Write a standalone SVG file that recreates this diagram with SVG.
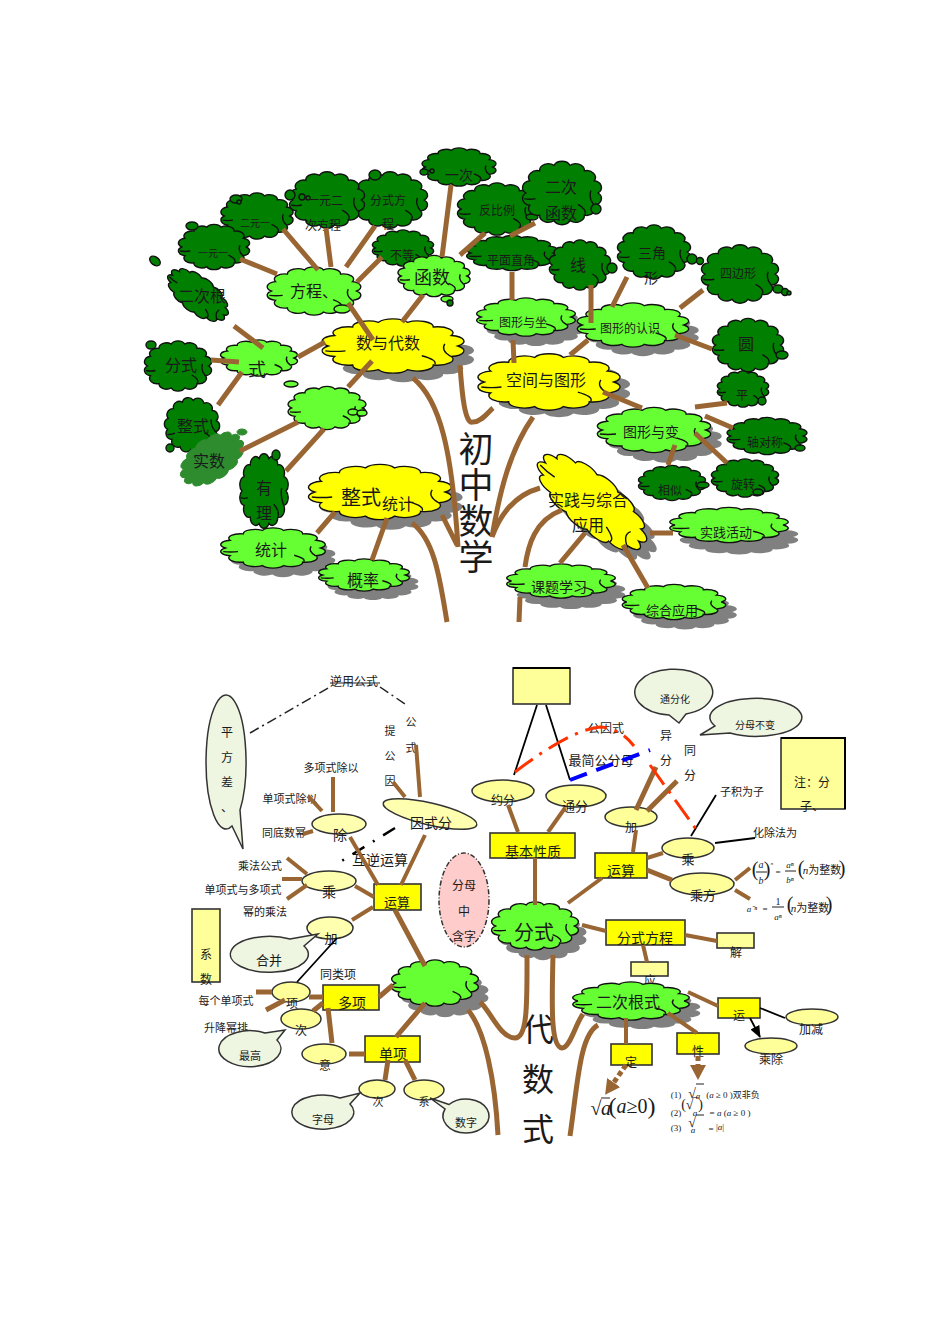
<svg xmlns="http://www.w3.org/2000/svg" width="950" height="1344" viewBox="0 0 950 1344">
<style>
text{font-family:"Liberation Serif","Noto Sans CJK SC",serif;text-anchor:middle;dominant-baseline:central;fill:#1a1a1a}
.s9{font-size:9px}.s10{font-size:10px}.s11{font-size:11px}.s12{font-size:12px}.s13{font-size:13px}.s14{font-size:14px}.s16{font-size:16px}.s18{font-size:18px}.s20{font-size:20px}.s32{font-size:32px}.s35{font-size:35px}
.i{font-style:italic}
.d{fill:#007f00;stroke:#111;stroke-width:1.4}
.l{fill:#66ff33;stroke:#111;stroke-width:1.4}
.y{fill:#ffff00;stroke:#111;stroke-width:1.4}
.m{fill:#2e8b2e;stroke:#2e8b2e;stroke-width:1}
.sh{fill:#808080;stroke:none}
.e{fill:#ffffb0;stroke:#333;stroke-width:1.5}
.b{fill:#eef5e1;stroke:#333;stroke-width:1.5}
.by{fill:#ffff00;stroke:#333;stroke-width:1.6}
.bp{fill:#ffff99;stroke:#333;stroke-width:1.6}
.br{fill:none;stroke:#996633;stroke-width:5}
.br3{fill:none;stroke:#996633;stroke-width:4}
.ar{fill:none;stroke:#000;stroke-width:1.8;marker-end:url(#a)}
</style>
<defs>
<marker id="a" markerUnits="userSpaceOnUse" markerWidth="14" markerHeight="12" refX="11" refY="5" orient="auto"><path d="M0,0L12,5L0,10z" fill="#000"/></marker>
<marker id="ab" markerUnits="userSpaceOnUse" markerWidth="16" markerHeight="16" refX="3" refY="8" orient="auto"><path d="M0,0L15,8L0,16z" fill="#996633"/></marker>
<g id="c">
<path vector-effect="non-scaling-stroke" d="M45,0A11,11 0 0 1 40.5,19.5A11,11 0 0 1 28,35.2A11,11 0 0 1 10,43.9A11,11 0 0 1 -10,43.9A11,11 0 0 1 -28,35.2A11,11 0 0 1 -40.5,19.5A11,11 0 0 1 -45,0A11,11 0 0 1 -40.5,-19.5A11,11 0 0 1 -28,-35.2A11,11 0 0 1 -10,-43.9A11,11 0 0 1 10,-43.9A11,11 0 0 1 28,-35.2A11,11 0 0 1 40.5,-19.5A11,11 0 0 1 45,0Z"/>
<path vector-effect="non-scaling-stroke" fill="none" d="M20,18Q31,26 29,34M-47,9Q-40,11 -33,9M36,-4Q33,8 40,19"/>
</g>
</defs>

<g id="tree-top">
<g id="yici"><use href="#c" class="d" transform="translate(459 167) scale(.75 .38)"/><ellipse class="d" cx="424" cy="172" rx="4" ry="3"/><circle class="d" cx="432" cy="171" r="2"/><text class="s14" x="459" y="175">一次</text></g>
<g id="fenshi-fangcheng"><use href="#c" class="d" transform="translate(390 200) scale(.76 .56)"/><ellipse class="d" cx="375" cy="175" rx="6" ry="5"/><text class="s12" x="388" y="201">分式方</text><text class="s12" x="388" y="225">程</text></g>
<g id="yiyuan-er"><use href="#c" class="d" transform="translate(327 200) scale(.76 .56)"/><circle class="d" cx="290" cy="195" r="5"/><circle class="d" cx="302" cy="197" r="3"/><circle class="d" cx="308" cy="198" r="2"/><text class="s12" x="325" y="201">一元二</text><text class="s12" x="323" y="226">次方程</text></g>
<g id="eryuan-yi"><use href="#c" class="d" transform="translate(257 216) scale(.73 .46)"/><ellipse class="d" cx="236" cy="199" rx="6" ry="4"/><circle class="d" cx="239" cy="202" r="2"/><text class="s10" x="255" y="223">二元一</text></g>
<g id="yiyuan-yi"><use href="#c" class="d" transform="translate(214 247) scale(.72 .45)"/><ellipse class="d" cx="192" cy="226" rx="6" ry="4"/><text class="s10" x="213" y="253">一元一</text></g>
<g id="ercigen"><use href="#c" class="d" transform="translate(198 295) rotate(38) scale(.72 .36)"/><ellipse class="d" cx="155" cy="261" rx="6" ry="4" transform="rotate(38 155 261)"/><text class="s16" x="202" y="296">二次根</text></g>
<g id="fenshi-d"><use href="#c" class="d" transform="translate(178 366) scale(.68 .5)"/><ellipse class="d" cx="151" cy="345" rx="5" ry="4"/><text class="s16" x="181" y="365">分式</text></g>
<g id="budeng"><use href="#c" class="d" transform="translate(403 248) scale(.62 .36)"/><ellipse class="d" cx="419" cy="262" rx="5" ry="3"/><text class="s12" x="402" y="256">不等</text></g>
<g id="fanbili"><use href="#c" class="d" transform="translate(497 209) scale(.8 .52)"/><ellipse class="d" cx="532" cy="217" rx="6" ry="3"/><text class="s12" x="497" y="211">反比例</text></g>
<g id="erci-hanshu"><use href="#c" class="d" transform="translate(562 193) scale(.8 .63)"/><circle class="d" cx="596" cy="209" r="5"/><text class="s16" x="561" y="187">二次</text><text class="s16" x="561" y="213">函数</text></g>
<g id="pingmian"><use href="#c" class="d" transform="translate(512 253) scale(.92 .35)"/><text class="s12" x="511" y="261">平面直角</text></g>
<g id="xian"><use href="#c" class="d" transform="translate(580 265) scale(.62 .5)"/><circle class="d" cx="612" cy="268" r="5"/><text class="s16" x="578" y="265">线</text></g>
<g id="sanjiao"><use href="#c" class="d" transform="translate(654 252) scale(.74 .54)"/><circle class="d" cx="692" cy="259" r="5"/><circle class="d" cx="700" cy="261" r="3.5"/><text class="s14" x="652" y="253">三角</text><text class="s14" x="651" y="278">形</text></g>
<g id="sibianxing"><use href="#c" class="d" transform="translate(740 274) scale(.78 .58)"/><ellipse class="d" cx="778" cy="289" rx="5" ry="4"/><circle class="d" cx="785" cy="292" r="3.5"/><circle class="d" cx="789" cy="293" r="2"/><text class="s12" x="738" y="274">四边形</text></g>
<g id="yuan"><use href="#c" class="d" transform="translate(748 345) scale(.72 .53)"/><ellipse class="d" cx="782" cy="355" rx="6" ry="4"/><text class="s16" x="746" y="344">圆</text></g>
<g id="ping"><use href="#c" class="d" transform="translate(743 389) scale(.52 .36)"/><circle class="d" cx="762" cy="401" r="4"/><text class="s12" x="742" y="396">平</text></g>
<g id="zhouduichen"><use href="#c" class="d" transform="translate(767 436) scale(.81 .37)"/><ellipse class="d" cx="800" cy="448" rx="5" ry="3"/><text class="s12" x="765" y="443">轴对称</text></g>
<g id="xuanzhuan"><use href="#c" class="d" transform="translate(745 478) scale(.68 .38)"/><ellipse class="d" cx="758" cy="492" rx="5" ry="3"/><text class="s12" x="743" y="485">旋转</text></g>
<g id="xiangsi"><use href="#c" class="d" transform="translate(672 483) scale(.68 .35)"/><ellipse class="d" cx="703" cy="485" rx="6" ry="3"/><text class="s12" x="670" y="491">相似</text></g>
<g id="zhengshi-d"><use href="#c" class="d" transform="translate(192 425) rotate(-10) scale(.55 .55)"/><circle class="d" cx="170" cy="448" r="4"/><text class="s16" x="193" y="426">整式</text></g>
<g id="youli"><use href="#c" class="d" transform="translate(264 491) scale(.49 .74)"/><ellipse class="d" cx="276" cy="455" rx="4" ry="5"/><text class="s16" x="264" y="488">有</text><text class="s16" x="264" y="513">理</text></g>
<g id="shishu"><use href="#c" class="m" transform="translate(212 459) rotate(-35) scale(.72 .42)"/><ellipse class="m" cx="242" cy="432" rx="5" ry="3"/><text class="s16" x="209" y="461">实数</text></g>
<g id="fangcheng"><use href="#c" class="l" transform="translate(314 291) scale(.95 .48)"/><ellipse class="l" cx="342" cy="309" rx="8" ry="4"/><text class="s16" x="314" y="291">方程、</text></g>
<g id="hanshu"><use href="#c" class="l" transform="translate(434 276) scale(.73 .41)"/><ellipse class="l" cx="447" cy="299" rx="6" ry="3"/><circle class="d" cx="450" cy="303" r="3"/><text class="s18" x="432" y="278">函数</text></g>
<g id="shi"><use href="#c" class="l" transform="translate(259 358) scale(.78 .36)"/><ellipse class="l" cx="291" cy="384" rx="7" ry="3"/><text class="s18" x="257" y="370">式</text></g>
<g id="unnamed-top"><use href="#c" class="l" transform="translate(327 408) scale(.79 .43)"/><ellipse class="l" cx="353" cy="412" rx="5" ry="3"/><ellipse class="l" cx="362" cy="413" rx="5" ry="3"/></g>
<g id="tongji"><use href="#c" class="sh" transform="translate(283 557) scale(1.06 .4)"/><use href="#c" class="l" transform="translate(273 548) scale(1.06 .4)"/><text class="s16" x="271" y="550">统计</text></g>
<g id="gailv"><use href="#c" class="sh" transform="translate(373 584) scale(.92 .32)"/><use href="#c" class="l" transform="translate(364 575) scale(.92 .32)"/><text class="s16" x="363" y="580">概率</text></g>
<g id="tuxing-zuobiao"><use href="#c" class="sh" transform="translate(536 327) scale(1 .38)"/><use href="#c" class="l" transform="translate(526 317) scale(1 .38)"/><text class="s12" x="523" y="323">图形与坐</text></g>
<g id="tuxing-renshi"><use href="#c" class="sh" transform="translate(643 334) scale(1.13 .44)"/><use href="#c" class="l" transform="translate(633 325) scale(1.13 .44)"/><text class="s12" x="630" y="329">图形的认识</text></g>
<g id="tuxing-bian"><use href="#c" class="sh" transform="translate(665 440) scale(1.15 .45)"/><use href="#c" class="l" transform="translate(654 430) scale(1.15 .45)"/><text class="s14" x="651" y="432">图形与变</text></g>
<g id="shijian-huodong"><use href="#c" class="sh" transform="translate(739 537) scale(1.2 .35)"/><use href="#c" class="l" transform="translate(729 525) scale(1.2 .35)"/><text class="s13" x="726" y="532">实践活动</text></g>
<g id="keti"><use href="#c" class="sh" transform="translate(571 592) scale(1.1 .34)"/><use href="#c" class="l" transform="translate(561 581) scale(1.1 .34)"/><text class="s14" x="559" y="587">课题学习</text></g>
<g id="zonghe"><use href="#c" class="sh" transform="translate(685 612) scale(1.05 .35)"/><use href="#c" class="l" transform="translate(674 602) scale(1.05 .35)"/><text class="s13" x="672" y="610">综合应用</text></g>
<g id="shuyu-daishu"><use href="#c" class="sh" transform="translate(403 355) scale(1.44 .54)"/><use href="#c" class="y" transform="translate(393 346) scale(1.44 .54)"/><text class="s16" x="388" y="343">数与代数</text></g>
<g id="kongjian"><use href="#c" class="sh" transform="translate(559 389) scale(1.44 .56)"/><use href="#c" class="y" transform="translate(549 382) scale(1.44 .56)"/><text class="s16" x="546" y="380">空间与图形</text></g>
<g id="zhengshi-tongji"><use href="#c" class="sh" transform="translate(391 502) scale(1.45 .55)"/><use href="#c" class="y" transform="translate(380 492) scale(1.45 .55)"/><text class="s20" x="361" y="498">整式</text><text class="s16" x="398" y="504">统计</text></g>
<g id="shijian"><use href="#c" class="sh" transform="translate(602 512) rotate(40) scale(1.35 .55)"/><use href="#c" class="y" transform="translate(592 502) rotate(40) scale(1.35 .55)"/><text class="s16" x="588" y="500">实践与综合</text><text class="s16" x="588" y="525">应用</text></g>
<g id="root-top"><text class="s35" x="476" y="450">初</text><text class="s35" x="476" y="486">中</text><text class="s35" x="476" y="522">数</text><text class="s35" x="476" y="558">学</text></g>
</g>

<g id="connectors-top">
<path class="br" d="M240,259L277,274M283,229L318,270M326,228L331,267M375,226L346,267M382,257L357,282M348,303L373,340M423,295L402,322M451,185L442,257M485,233L460,255M535,223L510,236M234,326L263,348M211,360L239,362M298,357L325,342M242,372L218,405M372,361L348,387M298,422L240,451M324,429L286,471M335,512L317,533M387,518L372,560"/>
<path class="br" d="M413,378C440,400 452,450 458,547M442,515L457,545M412,523C435,540 440,580 447,622M460,365C462,395 465,425 473,422C482,422 488,412 493,408M533,417C510,450 500,490 492,537M540,488C515,495 500,515 492,537M562,510C535,520 528,545 525,567M520,597L519,622"/>
<path class="br" d="M585,533L560,563M650,533L673,533M623,545L648,588M513,340L514,363M512,272L512,300M591,285L591,323M627,277L612,307M703,290L680,308M675,335L712,349M570,355L588,340M603,392L642,408M695,407L727,403M705,416L733,428M695,433L727,463M675,445L668,465"/>
</g>

<g id="tree-bottom">
<g id="pingfangcha"><path class="b" d="M240,810L243,849L232,826A20,67 0 1 1 240,810Z"/><text class="s12" x="227" y="733">平</text><text class="s12" x="227" y="758">方</text><text class="s12" x="227" y="783">差</text><text class="s12" x="227" y="808">、</text></g>
<g id="nizong"><text class="s12" x="354" y="682">逆用公式</text></g>
<g id="tigong"><text class="s11" x="390" y="731">提</text><text class="s11" x="390" y="756">公</text><text class="s11" x="390" y="781">因</text></g>
<g id="gongshi"><text class="s11" x="411" y="722">公</text><text class="s11" x="411" y="748">式</text></g>
<g id="yinshifen"><ellipse class="e" cx="430" cy="814" rx="48" ry="11" transform="rotate(13 430 814)"/><text class="s14" x="431" y="823">因式分</text></g>
<g id="chu"><ellipse class="e" cx="339" cy="824" rx="27" ry="10"/><text class="s14" x="340" y="835">除</text></g>
<g id="chu-labels"><text class="s11" x="331" y="768">多项式除以</text><text class="s11" x="290" y="799">单项式除以</text><text class="s11" x="284" y="833">同底数幂</text></g>
<g id="huni"><text class="s14" x="380" y="860">互逆运算</text></g>
<g id="cheng"><ellipse class="e" cx="329" cy="881" rx="27" ry="10"/><text class="s14" x="329" y="892">乘</text></g>
<g id="cheng-labels"><text class="s11" x="260" y="866">乘法公式</text><text class="s11" x="243" y="890">单项式与多项式</text><text class="s11" x="265" y="912">幂的乘法</text></g>
<g id="yunsuan1"><rect class="by" x="374" y="884" width="47" height="26"/><text class="s13" x="397" y="902">运算</text></g>
<g id="fenmu"><ellipse cx="464" cy="900" rx="25" ry="47" fill="#ffcccc" stroke="#333" stroke-width="1.5" stroke-dasharray="5 2 1 2"/><text class="s12" x="464" y="886">分母</text><text class="s12" x="464" y="912">中</text><text class="s12" x="464" y="937">含字</text></g>
<g id="jia1"><ellipse class="e" cx="330" cy="928" rx="23" ry="11"/><text class="s13" x="331" y="938">加</text></g>
<g id="hebing"><path class="b" d="M290,939L318,934L304,946A39,18 0 1 1 290,939Z"/><text class="s13" x="269" y="960">合并</text></g>
<g id="xishu-box"><rect class="bp" x="192" y="909" width="28" height="73"/><text class="s12" x="206" y="955">系</text><text class="s12" x="206" y="980">数</text></g>
<g id="tongleixiang"><text class="s12" x="338" y="975">同类项</text></g>
<g id="xiang"><ellipse class="e" cx="291" cy="992" rx="19" ry="10" style="fill:#ffff99"/><text class="s12" x="292" y="1004">项</text></g>
<g id="duoxiang"><rect class="by" x="323" y="985" width="56" height="25"/><text class="s14" x="352" y="1003">多项</text></g>
<g id="ci1"><ellipse class="e" cx="301" cy="1019" rx="20" ry="10" style="fill:#ffff99"/><text class="s12" x="301" y="1031">次</text></g>
<g id="xiang-labels"><text class="s11" x="226" y="1001">每个单项式</text><text class="s11" x="226" y="1028">升降幂排</text></g>
<g id="zuigao"><path class="b" d="M265,1033L285,1030L277,1040A31,18 0 1 1 265,1033Z"/><text class="s11" x="250" y="1056">最高</text></g>
<g id="yi"><ellipse class="e" cx="324" cy="1054" rx="22" ry="10" style="fill:#ffff99"/><text class="s12" x="325" y="1066">意</text></g>
<g id="danxiang"><rect class="by" x="365" y="1036" width="55" height="26"/><text class="s14" x="393" y="1054">单项</text></g>
<g id="zhengshi-cloud"><use href="#c" class="sh" transform="translate(445 994) scale(.88 .46)"/><use href="#c" class="l" transform="translate(435 983) scale(.88 .46)"/></g>
<g id="ci2"><ellipse class="e" cx="377" cy="1089" rx="18" ry="9" style="fill:#ffff99"/><text class="s11" x="378" y="1102">次</text></g>
<g id="xi"><ellipse class="e" cx="424" cy="1090" rx="20" ry="10" style="fill:#ffff99"/><text class="s11" x="424" y="1102">系</text></g>
<g id="zimu"><path class="b" d="M340,1098L360,1093L350,1104A31,17 0 1 1 340,1098Z"/><text class="s11" x="323" y="1120">字母</text></g>
<g id="shuzi"><path class="b" d="M449,1104.5L430,1098L445,1109A23,17 0 1 0 449,1104.5Z"/><text class="s11" x="466" y="1123">数字</text></g>
<g id="fenshi-cloud"><use href="#c" class="sh" transform="translate(543 936) scale(.88 .48)"/><use href="#c" class="l" transform="translate(535 926) scale(.88 .48)"/><text class="s20" x="534" y="933">分式</text></g>
<g id="jiben"><rect class="by" x="490" y="833" width="85" height="25"/><text class="s14" x="533" y="852">基本性质</text></g>
<g id="yuefen"><ellipse class="e" cx="503" cy="791" rx="31" ry="11" style="fill:#ffff99"/><text class="s12" x="503" y="801">约分</text></g>
<g id="tongfen"><ellipse class="e" cx="576" cy="796" rx="30" ry="11" style="fill:#ffff99"/><text class="s13" x="575" y="806">通分</text></g>
<g id="top-box"><rect class="bp" x="513" y="668" width="57" height="36"/><path d="M513,668H570" stroke="#000" stroke-width="2"/></g>
<g id="gongyinshi"><text class="s12" x="606" y="729">公因式</text></g>
<g id="zuijian"><text class="s13" x="601" y="760">最简公分母</text></g>
<g id="yifen"><text class="s12" x="666" y="736">异</text><text class="s12" x="666" y="761">分</text></g>
<g id="tongfen2"><text class="s12" x="690" y="751">同</text><text class="s12" x="690" y="776">分</text></g>
<g id="tongfenhua"><path class="b" d="M686,714L679,723L669,715A39,23 0 1 1 686,714Z"/><text class="s10" x="675" y="699">通分化</text></g>
<g id="fenmububian"><path class="b" d="M730,733L700,735L715,726A46,19 0 1 1 730,733Z"/><text class="s10" x="755" y="725">分母不变</text></g>
<g id="zhu"><rect class="bp" x="781" y="738" width="64" height="71"/><path d="M781,738H845V809" fill="none" stroke="#000" stroke-width="2"/><text class="s12" x="812" y="783">注：分</text><text class="s12" x="812" y="807">子、</text></g>
<g id="jia2"><ellipse class="e" cx="631" cy="817" rx="26" ry="10" style="fill:#ffff99"/><text class="s12" x="631" y="828">加</text></g>
<g id="yunsuan2"><rect class="by" x="595" y="853" width="52" height="25"/><text class="s14" x="621" y="871">运算</text></g>
<g id="cheng2"><ellipse class="e" cx="688" cy="848" rx="26" ry="10" style="fill:#ffff99"/><text class="s13" x="688" y="859">乘</text></g>
<g id="chengfang"><ellipse class="e" cx="702" cy="884" rx="32" ry="11" style="fill:#ffff99"/><text class="s13" x="703" y="895">乘方</text></g>
<g id="cheng-notes"><text class="s11" x="742" y="792">子积为子</text><text class="s11" x="775" y="833">化除法为</text></g>
<g id="formula1">
<text class="s20" x="755" y="869">(</text><text class="s10 i" x="761" y="864">a</text><path d="M756,872H767" stroke="#222"/><text class="s10 i" x="761" y="880">b</text><text class="s20" x="767" y="869">)</text><text class="s9 i" x="772" y="863" style="font-size:5px">n</text><text class="s9" x="778" y="872">=</text><text class="s9 i" x="790" y="865">aⁿ</text><path d="M785,871H796" stroke="#222"/><text class="s9 i" x="790" y="880">bⁿ</text><text class="s20" x="801" y="868">(</text><text class="s11" x="822" y="870"><tspan class="i">n</tspan>为整数</text><text class="s20" x="842" y="868">)</text>
</g>
<g id="formula2">
<text class="s9 i" x="752" y="909">a⁻ⁿ</text><text class="s9" x="765" y="909">=</text><path d="M772,907H784" stroke="#222"/><text class="s10" x="778" y="901">1</text><text class="s9 i" x="778" y="917">aⁿ</text><text class="s20" x="790" y="904">(</text><text class="s11" x="810" y="908"><tspan class="i">n</tspan>为整数</text><text class="s20" x="829" y="904">)</text>
</g>
<g id="fenshi-fangcheng-box"><rect class="by" x="606" y="920" width="79" height="25"/><text class="s14" x="645" y="938">分式方程</text></g>
<g id="jie"><rect class="bp" x="717" y="933" width="37" height="15"/><text class="s12" x="736" y="953">解</text></g>
<g id="ying"><rect class="bp" x="631" y="962" width="37" height="14"/><text class="s12" x="650" y="981">应</text></g>
<g id="ercigenshi"><use href="#c" class="sh" transform="translate(642 1010) scale(1.18 .38)"/><use href="#c" class="l" transform="translate(631 1001) scale(1.18 .38)"/><text class="s16" x="628" y="1002">二次根式</text></g>
<g id="yun"><rect class="by" x="718" y="998" width="42" height="20"/><text class="s12" x="739" y="1016">运</text></g>
<g id="jiajian"><ellipse class="e" cx="812" cy="1017" rx="26" ry="8" style="fill:#ffff99"/><text class="s12" x="811" y="1030">加减</text></g>
<g id="chengchu"><ellipse class="e" cx="771" cy="1046" rx="26" ry="8" style="fill:#ffff99"/><text class="s12" x="771" y="1060">乘除</text></g>
<g id="ding"><rect class="by" x="611" y="1044" width="41" height="21"/><text class="s12" x="631" y="1063">定</text></g>
<g id="xing"><rect class="by" x="677" y="1033" width="42" height="21"/><text class="s12" x="698" y="1052">性</text></g>
<g id="formula3"><text class="s20" x="596" y="1108">√</text><path d="M601,1098H610" stroke="#222"/><text class="s20 i" x="606" y="1108">a</text><text class="s20" x="632" y="1106"><tspan style="font-size:24px">(</tspan><tspan class="i">a</tspan>≥0<tspan style="font-size:24px">)</tspan></text></g>
<g id="formula4">
<text class="s9" x="676" y="1095">(1)</text><text class="s14" x="692" y="1093">√</text><path d="M696,1084H704" stroke="#222"/><text class="s9 i" x="698" y="1096">a</text><text class="s9" x="733" y="1095">(<tspan class="i">a</tspan>  ≥  0 )双非负</text>
<text class="s9" x="676" y="1113">(2)</text><text class="s14" x="692" y="1104">(√‾)</text><text class="s9 i" x="695" y="1113">a</text><text class="s9" x="730" y="1113">= <tspan class="i">a</tspan> (<tspan class="i">a</tspan> ≥ 0 )</text>
<text class="s9" x="676" y="1128">(3)</text><text class="s14" x="692" y="1122">√</text><path d="M696,1115H704" stroke="#222"/><text class="s9 i" x="693" y="1130">a</text><text class="s9" x="711" y="1129">=</text><text class="s9" x="720" y="1127">|<tspan class="i">a</tspan>|</text>
</g>
<g id="root-bottom"><text class="s32" x="538" y="1030">代</text><text class="s32" x="538" y="1080">数</text><text class="s32" x="538" y="1130">式</text></g>
</g>

<g id="connectors-bottom">
<path d="M250,733L330,687M380,687L405,704" fill="none" stroke="#222" stroke-width="1.5" stroke-dasharray="10 4 2 4"/>
<path d="M330,683H380" stroke="#222" stroke-width="1.2"/>
<path d="M395,828L340,862" fill="none" stroke="#000" stroke-width="2.5" stroke-dasharray="14 10 2 10"/>
<path class="br3" d="M416,745L420,797M393,782L405,797M333,777L333,812M308,796L322,811M303,834L313,831M350,837L378,885M425,835L401,885M287,858L307,874M282,879L302,879M287,899L307,885M355,886L374,897M352,920L373,907"/>
<path class="br" d="M256,992L272,992M266,1010L285,1000M309,997L323,997M313,1011L323,1003M328,1008L332,1043M349,1054L365,1054M379,997L393,985M395,910L425,966M425,1003L396,1037M388,1060L385,1080M405,1060L415,1080"/>
<path class="br" d="M468,1010C485,1030 495,1080 498,1135M480,1002C490,1010 500,1038 515,1038C528,1038 527,1000 527,955M553,955C552,1000 550,1047 562,1048C570,1048 575,1025 583,1014M598,1025C580,1035 578,1080 570,1136"/>
<path class="br3" d="M535,858L535,905M508,805L518,832M565,808L548,832M636,830L633,852M647,858L663,853M602,878L568,903M735,880L750,868M735,890L750,899M582,925L606,931M685,935L717,941M643,945L647,962M688,992L718,1006M626,1018L626,1044M668,1013L697,1033"/>
<path class="br" d="M656,767L636,810M677,781L647,811M647,870L672,880"/>
<path class="ar" d="M297,982L337,938M514,775L537,705M570,780L546,705M716,795L691,836M755,838L715,843M760,1008L785,1018M750,1018L760,1037"/>
<path d="M515,772Q570,730 600,727Q620,728 634,746" fill="none" stroke="#ff3300" stroke-width="3" stroke-dasharray="22 8 3 8"/>
<path d="M570,780L650,750" fill="none" stroke="#0000ff" stroke-width="4" stroke-dasharray="18 10"/>
<path d="M650,765L698,832" fill="none" stroke="#ff3300" stroke-width="3" stroke-dasharray="24 8 3 8"/>
<path d="M626,1065L612,1085" fill="none" stroke="#996633" stroke-width="5" stroke-dasharray="5 3" marker-end="url(#ab)"/>
<path d="M698,1056L698,1068" fill="none" stroke="#996633" stroke-width="5" stroke-dasharray="5 3" marker-end="url(#ab)"/>
</g>
</svg>
